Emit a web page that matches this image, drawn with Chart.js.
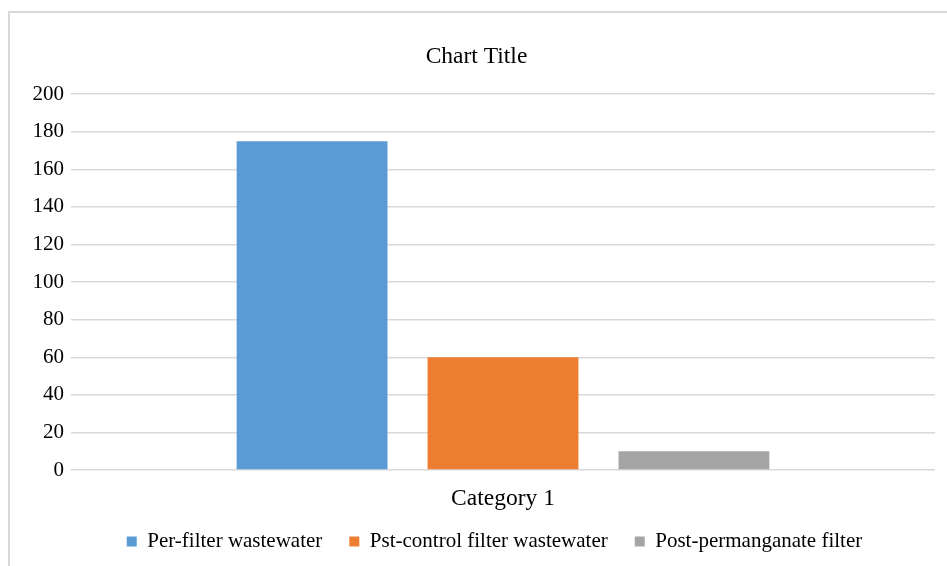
<!DOCTYPE html>
<html>
<head>
<meta charset="utf-8">
<script src="https://cdn.jsdelivr.net/npm/chart.js@4.4.0/dist/chart.umd.min.js"></script>
<style>
    html, body { margin: 0; padding: 0; background: #fff; overflow: hidden; }
    #wrap { position: relative; width: 947px; height: 566px; }
    #frame {
        position: absolute; left: 8px; top: 11px; width: 960px; height: 600px;
        border: 2px solid #d9d9d9; box-sizing: border-box;
    }
    canvas { position: absolute; left: 0; top: 0; }
</style>
</head>
<body>
<div id="wrap">
    <div id="frame"></div>
    <canvas id="barChart" width="947" height="566"></canvas>
</div>
<script>
    // Data
    const categories = ['Category 1'];
    const seriesNames = ['Per-filter wastewater', 'Pst-control filter wastewater', 'Post-permanganate filter'];
    const preFilter = [175];
    const controlFilter = [60];
    const permanganateFilter = [10];
    const yTicks = [0, 20, 40, 60, 80, 100, 120, 140, 160, 180, 200];

    const colors = ['#5b9bd5', '#ed7d31', '#a5a5a5'];
    const fontFamily = '"Liberation Serif", "Times New Roman", serif';

    const barData = {
        labels: categories,
        datasets: [preFilter, controlFilter, permanganateFilter].map(function (vals, i) {
            return {
                label: seriesNames[i],
                data: vals,
                backgroundColor: colors[i],
                categoryPercentage: 0.663,
                barPercentage: 0.79
            };
        })
    };

    // Excel centres the title and legend a bit right of the canvas centre,
    // and the category label needs more room than the axis box gives it
    const nudgePlugin = {
        id: 'nudge',
        afterLayout: function (chart) {
            chart.scales.x.bottom = chart.scales.x.top + 50;
            chart.legend.left += 50;
            chart.titleBlock.left += 14;
        }
    };

    const barOptions = {
        type: 'bar',
        data: barData,
        plugins: [nudgePlugin],
        options: {
            responsive: false,
            animation: false,
            layout: { padding: { left: 4, right: 12, top: 0, bottom: 4 } },
            plugins: {
                title: {
                    display: true,
                    text: 'Chart Title',
                    color: '#000',
                    font: { family: fontFamily, size: 23.5, weight: 'normal' },
                    padding: { top: 43, bottom: 23 }
                },
                legend: {
                    position: 'bottom',
                    labels: {
                        boxWidth: 10,
                        boxHeight: 10,
                        padding: 27,
                        color: '#000',
                        font: { family: fontFamily, size: 21 }
                    }
                },
                tooltip: { enabled: false }
            },
            scales: {
                x: {
                    grid: { display: false, drawTicks: false },
                    border: { display: false },
                    afterFit: function (axis) { axis.height = 34; },
                    ticks: {
                        color: '#000',
                        padding: 15,
                        font: { family: fontFamily, size: 23.5 }
                    }
                },
                y: {
                    min: 0,
                    max: 200,
                    afterBuildTicks: function (axis) {
                        axis.ticks = yTicks.map(function (v) { return { value: v }; });
                    },
                    afterFit: function (axis) { axis.width = 67; },
                    grid: { color: '#d9d9d9', lineWidth: 1.5, drawTicks: false },
                    border: { display: false },
                    ticks: {
                        color: '#000',
                        padding: 7,
                        font: { family: fontFamily, size: 21 }
                    }
                }
            }
        }
    };

    new Chart(document.getElementById('barChart'), barOptions);
</script>
</body>
</html>
